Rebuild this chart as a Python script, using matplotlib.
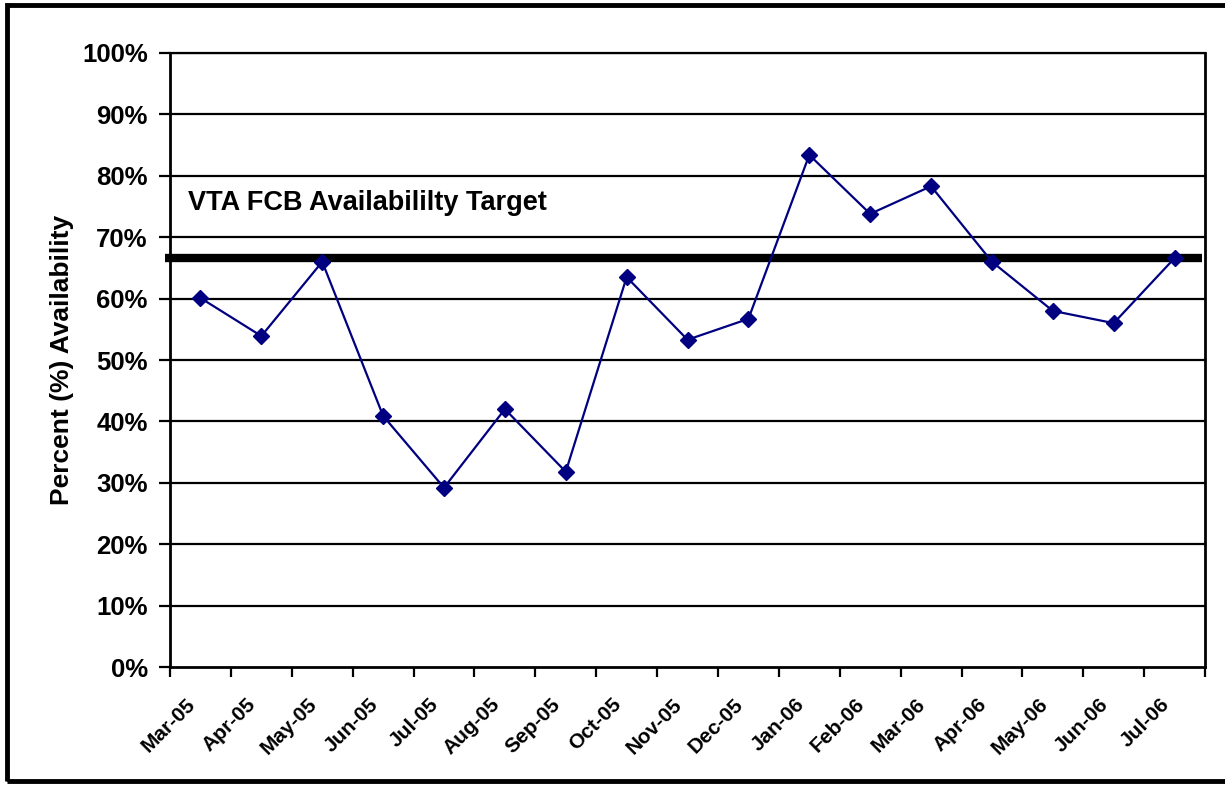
import numpy as np
import matplotlib.pyplot as plt
import matplotlib.transforms as mtrans
from matplotlib.patches import Rectangle

plt.rcParams['font.family'] = ['Liberation Sans', 'DejaVu Sans']

months = ['Mar-05', 'Apr-05', 'May-05', 'Jun-05', 'Jul-05', 'Aug-05', 'Sep-05',
          'Oct-05', 'Nov-05', 'Dec-05', 'Jan-06', 'Feb-06', 'Mar-06', 'Apr-06',
          'May-06', 'Jun-06', 'Jul-06']
availability = [60.1, 53.9, 66.0, 40.9, 29.2, 42.0, 31.8, 63.5, 53.3, 56.7,
                83.4, 73.8, 78.3, 66.0, 58.0, 56.0, 66.6]
target = 66.6
target_label = 'VTA FCB Availabililty Target'

fig = plt.figure(figsize=(12.25, 7.85), dpi=100)
ax = fig.add_axes([0.1388, 0.1503, 0.8449, 0.7822])

x = np.arange(len(months))
ax.set_ylim(0, 100)
ax.set_xlim(-0.5, len(months) - 0.5)

# gridlines every 10%
for yv in range(10, 101, 10):
    ax.axhline(yv, color='black', lw=1.6, zorder=1)

# target line, a bit past the left axis like the original
ax.plot([-0.58, len(months) - 0.55], [target, target], color='black', lw=6,
        solid_capstyle='butt', clip_on=False, zorder=2)
ax.plot(x, availability, color='#000080', lw=1.6, marker='D', markersize=8, zorder=3)

ax.text(-0.2, 75.5, target_label, fontsize=19.5, fontweight='bold', va='center', ha='left')

ax.set_yticks(range(0, 101, 10))
ax.set_yticklabels([f'{v}%' for v in range(0, 101, 10)], fontsize=18.5, fontweight='bold')
ax.tick_params(axis='y', direction='out', length=8, width=1.6, pad=8)

ax.set_xticks(x)
ax.set_xticklabels(months, rotation=45, ha='right', rotation_mode='anchor',
                   fontsize=15, fontweight='bold')
ax.tick_params(axis='x', which='major', length=0, pad=20)
shift = mtrans.ScaledTranslation(-0.15, 0, fig.dpi_scale_trans)
for lab in ax.get_xticklabels():
    lab.set_transform(lab.get_transform() + shift)
ax.set_xticks(np.arange(-0.5, len(months)), minor=True)
ax.tick_params(axis='x', which='minor', direction='out', length=7, width=1.6)

ax.set_ylabel('Percent (%) Availability', fontsize=19, fontweight='bold', labelpad=6)

for s in ax.spines.values():
    s.set_linewidth(2)
ax.spines['top'].set_linewidth(1.6)

fig.patches.append(Rectangle((7 / 1225, 1 - 781 / 785), 1.0, 776 / 785,
                             transform=fig.transFigure, fill=False, lw=3.5,
                             edgecolor='black'))

fig.savefig('out.png', dpi=100)
